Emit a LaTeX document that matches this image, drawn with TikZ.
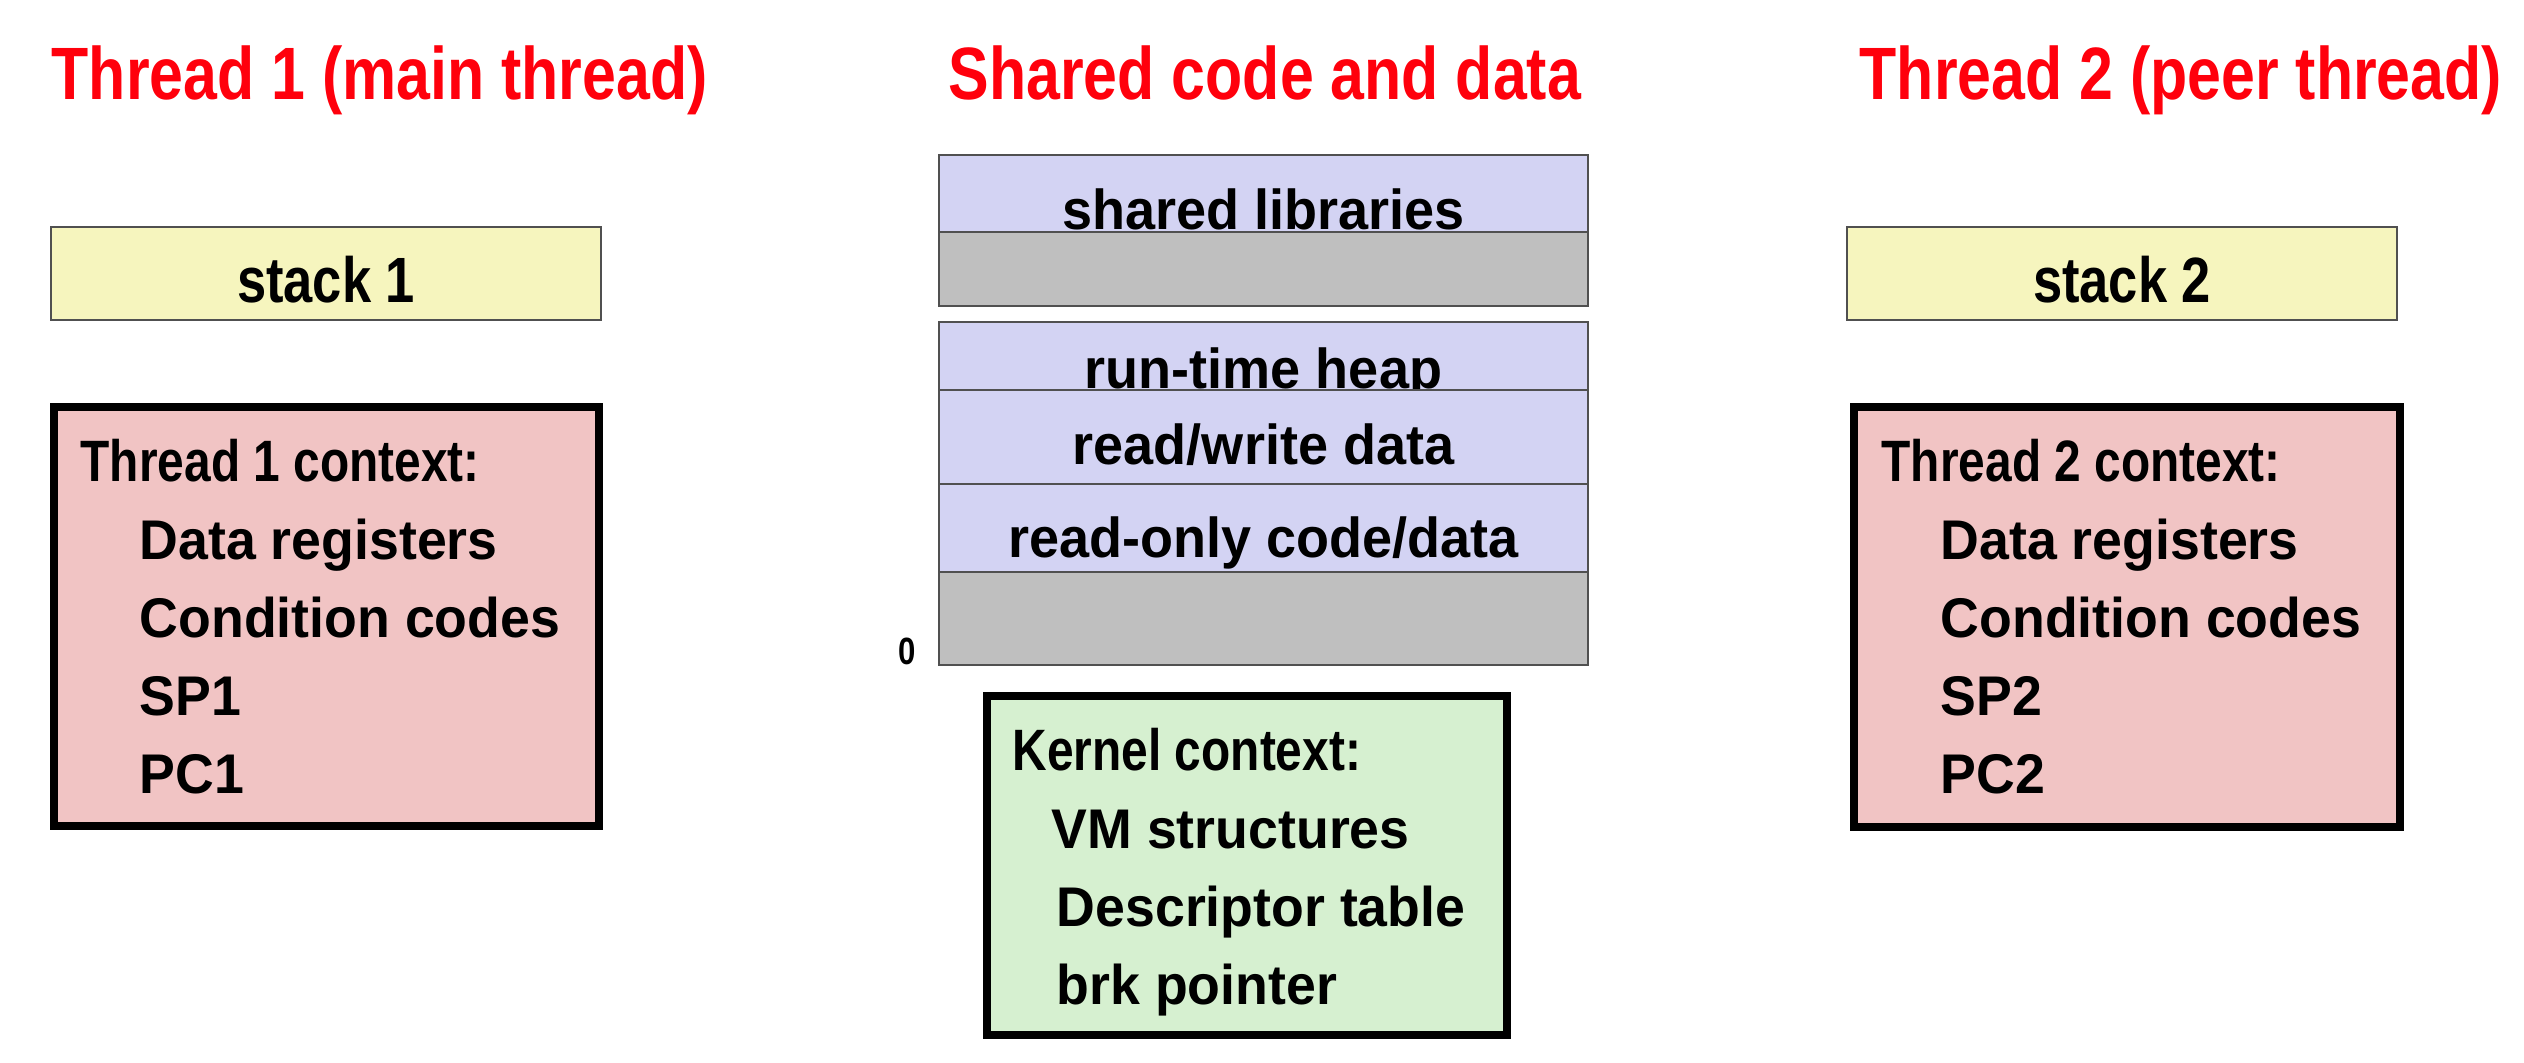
\documentclass[tikz,border=0pt]{standalone}
\usepackage{fontspec}
\setmainfont{Liberation Sans}
\newfontfamily\narrowfont{Liberation Sans}[FakeStretch=0.82]
\newfontfamily\itemfont{Liberation Sans}[FakeStretch=0.96]

\definecolor{titlered}{RGB}{255,0,12}
\definecolor{stackyellow}{RGB}{246,245,190}
\definecolor{ctxpink}{RGB}{241,196,196}
\definecolor{seglavender}{RGB}{211,211,243}
\definecolor{gapgray}{RGB}{191,191,191}
\definecolor{kernelgreen}{RGB}{214,240,208}
\definecolor{linegray}{RGB}{80,80,80}

\tikzset{
  title/.style={anchor=base west, inner sep=0pt, text=titlered,
    font=\narrowfont\bfseries\fontsize{21.1}{25}\selectfont},
  stackbox/.style={draw=linegray, line width=0.45pt, fill=stackyellow,
    minimum width=5.5cm, minimum height=0.93cm, inner sep=0pt},
  stacklabel/.style={anchor=base, inner sep=0pt,
    font=\narrowfont\bfseries\fontsize{18.2}{22}\selectfont},
  ctxbox/.style={draw=black, line width=2.3pt, fill=ctxpink, inner sep=0pt},
  ctxhead/.style={anchor=base west, inner sep=0pt,
    font=\narrowfont\bfseries\fontsize{16.6}{20}\selectfont},
  ctxitem/.style={anchor=base west, inner sep=0pt,
    font=\itemfont\bfseries\fontsize{15.9}{19}\selectfont},
  segbox/.style={draw=linegray, line width=0.45pt, fill=seglavender},
  gapbox/.style={draw=linegray, line width=0.45pt, fill=gapgray},
  seglabel/.style={anchor=base, inner sep=0pt,
    font=\itemfont\bfseries\fontsize{16}{19}\selectfont},
  zerolabel/.style={anchor=base, inner sep=0pt,
    font=\narrowfont\bfseries\fontsize{10.8}{13}\selectfont}
}

\begin{document}
\begin{tikzpicture}[x=0.01cm,y=-0.01cm]
  \useasboundingbox (0,0) rectangle (2524,1062);

  % Column titles
  \node[title] (t1title) at (51,99) {Thread 1 (main thread)};
  \node[title] (sharedtitle) at (948,99) {Shared code and data};
  \node[title] (t2title) at (1859,99) {Thread 2 (peer thread)};

  % Stacks
  \node[stackbox] (stack1) at (326,273.5) {};
  \node[stacklabel] (stack1label) at (326,302) {stack 1};
  \node[stackbox] (stack2) at (2122,273.5) {};
  \node[stacklabel] (stack2label) at (2122,302) {stack 2};

  % Thread 1 context
  \node[ctxbox, minimum width=5.45cm, minimum height=4.19cm] (ctx1) at (326.5,616.5) {};
  \node[ctxhead] (ctx1head) at (80,481) {Thread 1 context:};
  \foreach \txt [count=\i] in {Data registers, Condition codes, SP1, PC1}
    \node[ctxitem] (ctx1item\i) at (139,481+78*\i) {\txt};

  % Thread 2 context
  \node[ctxbox, minimum width=5.46cm, minimum height=4.2cm] (ctx2) at (2127,617) {};
  \node[ctxhead] (ctx2head) at (1881,481) {Thread 2 context:};
  \foreach \txt [count=\i] in {Data registers, Condition codes, SP2, PC2}
    \node[ctxitem] (ctx2item\i) at (1940,481+78*\i) {\txt};

  % Shared address space
  \draw[segbox] (939,155) rectangle (1588,232);
  \node[seglabel] (libs) at (1263.5,229) {shared libraries};
  \draw[gapbox] (939,232) rectangle (1588,306);
  \draw[segbox] (939,322) rectangle (1588,390);
  \node[seglabel] (heap) at (1263.5,388) {run-time heap};
  \draw[segbox] (939,390) rectangle (1588,484);
  \node[seglabel] (rwdata) at (1263.5,464) {read/write data};
  \draw[segbox] (939,484) rectangle (1588,572);
  \node[seglabel] (rodata) at (1263.5,557) {read-only code/data};
  \draw[gapbox] (939,572) rectangle (1588,665);
  \node[zerolabel] (zero) at (907,664) {0};

  % Kernel context
  \node[ctxbox, fill=kernelgreen, minimum width=5.2cm, minimum height=3.39cm] (kernel) at (1247,865.5) {};
  \node[ctxhead] (kernelhead) at (1012,770) {Kernel context:};
  \node[ctxitem] (kernelitem1) at (1051,848) {VM structures};
  \foreach \txt [count=\i from 2] in {Descriptor table, brk pointer}
    \node[ctxitem] (kernelitem\i) at (1056,770+78*\i) {\txt};
\end{tikzpicture}
\end{document}
